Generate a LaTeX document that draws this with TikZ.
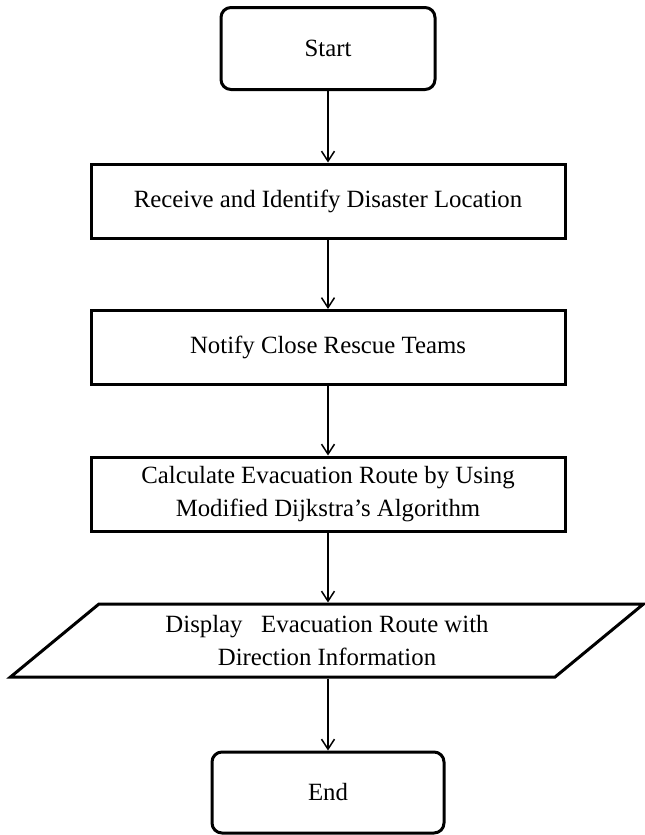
\documentclass[tikz,border=0pt]{standalone}
\usepackage{fontspec}
\setmainfont{Liberation Serif}
\usetikzlibrary{positioning, shapes.geometric, arrows.meta}

\begin{document}
\begin{tikzpicture}[x=0.5pt, y=-0.5pt,
  every node/.style={font=\fontsize{12.4}{16.5}\selectfont, align=center, inner sep=0pt},
  terminal/.style={draw, line width=1.5pt, rounded corners=5pt, minimum width=107pt, minimum height=41pt},
  process/.style={draw, line width=1.5pt, minimum width=237pt, minimum height=37pt},
  io/.style={draw, line width=1.5pt, trapezium, trapezium left angle=29.7, trapezium right angle=150.3,
    trapezium stretches body, minimum width=316.5pt, minimum height=36.5pt},
  flow/.style={-{Straight Barb[length=5pt, width=6.5pt]}, line width=0.75pt}]
  \useasboundingbox (0,0) rectangle (644,835);

  \node[terminal] (st) at (328,48.5) {Start};
  \node[process] (rc) at (328,201) {Receive and Identify Disaster Location};
  \node[process] (nt) at (328,347.5) {Notify Close Rescue Teams};
  \node[process] (cl) at (328,494) {Calculate Evacuation Route by Using\\Modified Dijkstra's Algorithm};
  \node[io] (ds) at (327,640.5) {Display\ \ \ Evacuation Route with\\Direction Information};
  \node[terminal, minimum width=116pt, minimum height=40.5pt] (ed) at (328,792.5) {End};

  \draw[flow] (st)--(rc);
  \draw[flow] (rc)--(nt);
  \draw[flow] (nt)--(cl);
  \draw[flow] (cl.south)--(cl.south |- ds.north);
  \draw[flow] (ds.south -| ed.north)--(ed);
\end{tikzpicture}
\end{document}
